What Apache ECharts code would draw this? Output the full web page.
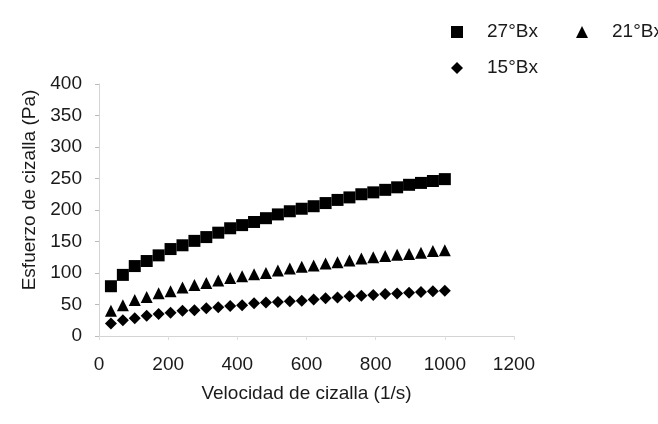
<!DOCTYPE html>
<html>
<head>
<meta charset="utf-8">
<script src="https://cdn.jsdelivr.net/npm/echarts@6/dist/echarts.min.js"></script>
<style>
  html, body { margin: 0; padding: 0; background: #fff; }
  #chart { width: 658px; height: 424px; }
</style>
</head>
<body>
<div id="chart"></div>
<script>
// Shear rate (1/s)
const shearRate = [34.5, 69, 103.4, 137.9, 172.4, 206.9, 241.4, 275.9, 310.3, 344.8,
  379.3, 413.8, 448.3, 482.8, 517.2, 551.7, 586.2, 620.7, 655.2, 689.7,
  724.1, 758.6, 793.1, 827.6, 862.1, 896.6, 931, 965.5, 1000];

// Shear stress (Pa) for each sugar concentration
const stress27 = [79, 97, 111, 119, 128, 138, 144, 151, 157, 164,
  171, 176, 181, 187, 193, 198, 202, 206, 211, 216,
  220, 225, 228, 232, 236, 240, 243, 246, 249];
const stress21 = [40, 49, 57, 62, 68, 71, 77, 81, 84, 88,
  92, 95, 98, 100, 104, 107, 110, 112, 115, 117,
  120, 123, 125, 127, 129, 130, 132, 135, 136];
const stress15 = [20, 25, 28, 32, 35, 37, 40, 41, 44, 45.5,
  47.5, 49, 52, 53, 54, 55, 56, 58, 60, 61,
  63, 64, 65, 66.5, 67.5, 68.5, 70, 71, 72];

const seriesNames = ['27°Bx', '21°Bx', '15°Bx'];
const xTicks = { min: 0, max: 1200, interval: 200 };
const yTicks = { min: 0, max: 400, interval: 50 };

const pairs = (ys) => shearRate.map((x, i) => [x, ys[i]]);

const font = 'Liberation Sans, Arial, sans-serif';
const fs = 19;
const ink = '#000';
const textColor = '#1a1a1a';
const plain = (v) => String(v);

const legendText = { fontFamily: font, fontSize: fs, lineHeight: 20, color: textColor, padding: [0, 0, 0, 19] };
// one legend box per entry so the right-hand entry can run past the edge without wrapping
const legendBox = (name, left, top) => ({
  data: [name], left, top,
  itemWidth: 12, itemHeight: 12,
  textStyle: legendText
});

const chart = echarts.init(document.getElementById('chart'), null, { renderer: 'canvas' });
chart.setOption({
  animation: false,
  backgroundColor: '#fff',
  grid: { left: 99, right: 144, top: 84, bottom: 88, containLabel: false },
  legend: [
    legendBox(seriesNames[0], 446, 17),
    legendBox(seriesNames[1], 571, 17),
    legendBox(seriesNames[2], 446, 53)
  ],
  xAxis: {
    type: 'value',
    min: xTicks.min, max: xTicks.max, interval: xTicks.interval,
    name: 'Velocidad de cizalla (1/s)',
    nameLocation: 'middle', nameGap: 48,
    nameTextStyle: { fontFamily: font, fontSize: fs, color: textColor },
    axisLine: { show: true, lineStyle: { color: '#d4d4d4', width: 1 } },
    axisTick: { show: true, length: 4, lineStyle: { color: '#ddd' } },
    axisLabel: { margin: 19, fontFamily: font, fontSize: fs, color: textColor, formatter: plain },
    splitLine: { show: false }
  },
  yAxis: {
    type: 'value',
    min: yTicks.min, max: yTicks.max, interval: yTicks.interval,
    name: 'Esfuerzo de cizalla (Pa)',
    nameLocation: 'middle', nameGap: 57, nameRotate: 90,
    nameTextStyle: { fontFamily: font, fontSize: fs, color: textColor, padding: [0, 0, 0, 40] },
    axisLine: { show: true, lineStyle: { color: '#d4d4d4', width: 1 } },
    axisTick: { show: true, length: 4, lineStyle: { color: '#bbb' } },
    axisLabel: { margin: 17, fontFamily: font, fontSize: fs, color: textColor, formatter: plain },
    splitLine: { show: false }
  },
  series: [
    {
      name: seriesNames[0], type: 'scatter', data: pairs(stress27),
      symbol: 'rect', symbolSize: 12, itemStyle: { color: ink, opacity: 1 }
    },
    {
      name: seriesNames[1], type: 'scatter', data: pairs(stress21),
      symbol: 'triangle', symbolSize: [12, 12], itemStyle: { color: ink, opacity: 1 }
    },
    {
      name: seriesNames[2], type: 'scatter', data: pairs(stress15),
      symbol: 'diamond', symbolSize: [12, 12], itemStyle: { color: ink, opacity: 1 }
    }
  ]
});
</script>
</body>
</html>
